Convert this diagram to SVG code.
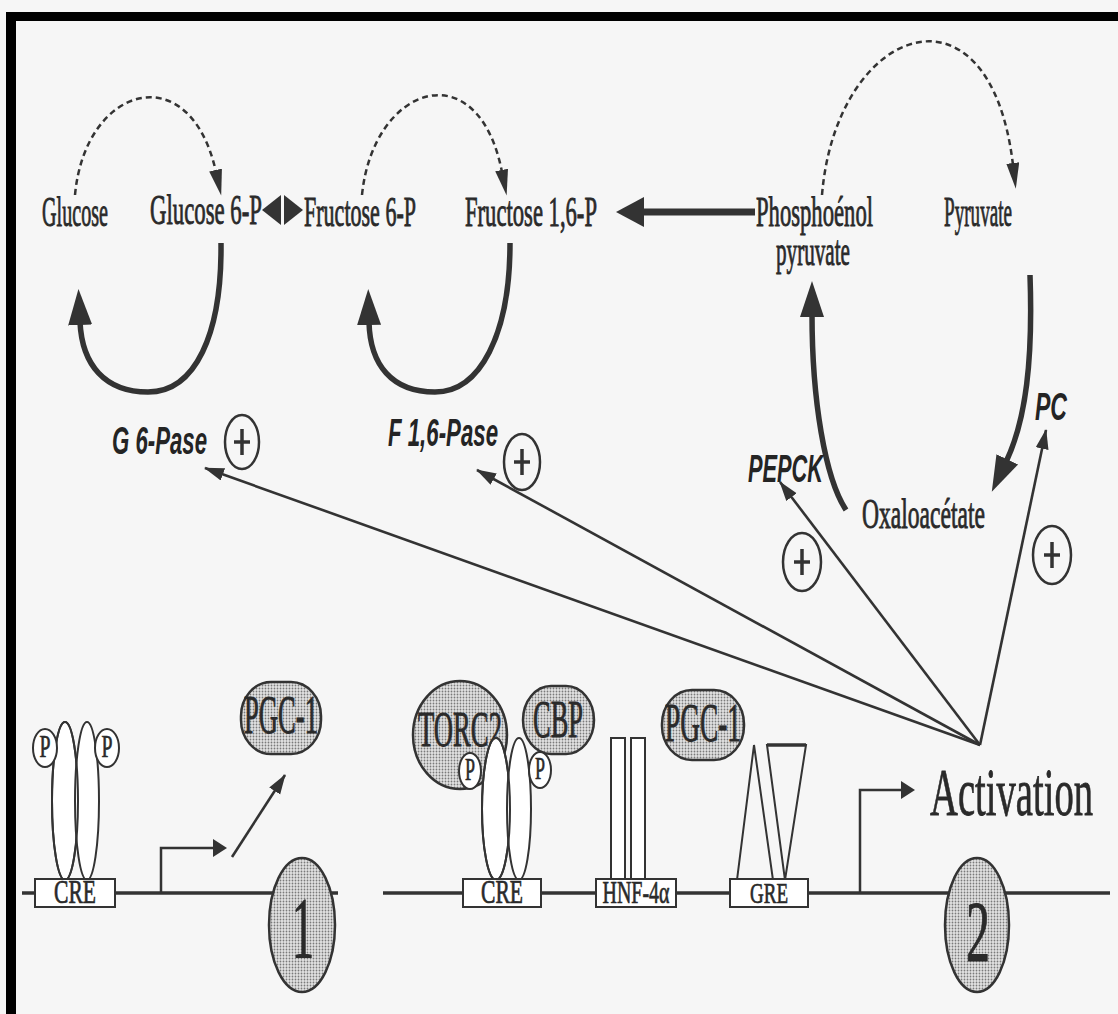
<svg xmlns="http://www.w3.org/2000/svg" width="1118" height="1014" viewBox="0 0 1118 1014">
<defs>
<style>
.bg{fill:#f6f6f6}
.bar{fill:#000}
.t{font-family:"Liberation Serif","Times New Roman",serif;fill:#2a2a2a;stroke:#2a2a2a;stroke-width:0.45}
.row{font-size:21px}
.lab{font-family:"Liberation Sans",Arial,sans-serif;font-weight:bold;font-style:italic;font-size:22px;fill:#242424}
.dash{fill:none;stroke:#333;stroke-width:2.5;stroke-dasharray:6 4;marker-end:url(#ahD)}
.bold{fill:none;stroke:#333;stroke-width:5.5;marker-end:url(#ahB)}
.act{fill:none;stroke:#333;stroke-width:2.6;marker-end:url(#ahT)}
.prom{fill:none;stroke:#333;stroke-width:2.5;marker-end:url(#ahP)}
.plus{fill:none;stroke:#333;stroke-width:2.5}
.pl{stroke:#333;stroke-width:3.5}
.stip{fill:url(#stip);stroke:#333;stroke-width:2.5}
.wht{fill:#fff;stroke:#333;stroke-width:2}
.out{fill:none;stroke:#333;stroke-width:2}
.dna{stroke:#333;stroke-width:3.5}
</style>
<pattern id="stip" width="3" height="3" patternUnits="userSpaceOnUse"><rect width="3" height="3" fill="#e2e2e2"/><circle cx="1.5" cy="1.5" r="0.9" fill="#7a7a7a"/></pattern>
<marker id="ahD" markerUnits="userSpaceOnUse" markerWidth="28" markerHeight="14" refX="2" refY="6.5" orient="auto"><path d="M0,0 L26,6.5 L0,13 z" fill="#333"/></marker>
<marker id="ahB" markerUnits="userSpaceOnUse" markerWidth="40" markerHeight="26" refX="3" refY="12" orient="auto"><path d="M0,0 L36,12 L0,24 z" fill="#333"/></marker>
<marker id="ahT" markerUnits="userSpaceOnUse" markerWidth="22" markerHeight="14" refX="19" refY="6.5" orient="auto"><path d="M0,0 L20,6.5 L0,13 z" fill="#333"/></marker>
<marker id="ahP" markerUnits="userSpaceOnUse" markerWidth="16" markerHeight="20" refX="1" refY="9" orient="auto"><path d="M0,0 L14,9 L0,18 z" fill="#333"/></marker>
<marker id="ahK" markerUnits="userSpaceOnUse" markerWidth="30" markerHeight="32" refX="2" refY="15" orient="auto"><path d="M0,0 L28,15 L0,30 z" fill="#333"/></marker>
</defs>

<rect class="bg" x="0" y="0" width="1118" height="1014"/>
<g id="frame">
<rect class="bar" x="8" y="12" width="1110" height="9"/>
<rect class="bar" x="6" y="12" width="10" height="1002"/>
</g>

<g id="connectors">
<path class="dash" d="M75,195 C85,85 190,55 216,172"/>
<path class="dash" d="M362,195 C373,85 478,50 502,172"/>
<path class="dash" d="M822,195 C836,25 990,-30 1013,165"/>
<line x1="755" y1="212" x2="642" y2="212" stroke="#333" stroke-width="7" marker-end="url(#ahK)"/>
<path class="bold" d="M221,243 C222,335 195,392 148,392 C105,392 82,365 80,322"/>
<path class="bold" d="M510,243 C510,335 480,392 435,392 C392,392 370,365 369,322"/>
<path class="bold" d="M846,510 C825,478 812,400 812,314"/>
<path class="bold" d="M1030,275 C1033,360 1026,420 1006,462"/>
<line class="act" x1="980" y1="745" x2="205" y2="468"/>
<line class="act" x1="980" y1="745" x2="477" y2="470"/>
<line class="act" x1="980" y1="745" x2="780" y2="482"/>
<line class="act" x1="980" y1="745" x2="1046" y2="430"/>
<path class="prom" d="M161,893 V848 H214"/>
<line class="act" x1="232" y1="857" x2="285" y2="775"/>
<path class="prom" d="M860,893 V790 H902"/>
</g>

<g id="metabolites">
<text class="t row" transform="translate(42,226) scale(1,2.05)" textLength="66" lengthAdjust="spacingAndGlyphs">Glucose</text>
<text class="t row" transform="translate(150,224) scale(1,2.05)" textLength="112" lengthAdjust="spacingAndGlyphs">Glucose 6-P</text>
<text class="t row" transform="translate(304,226) scale(1,2.05)" textLength="112" lengthAdjust="spacingAndGlyphs">Fructose 6-P</text>
<text class="t row" transform="translate(465,226) scale(1,2.05)" textLength="132" lengthAdjust="spacingAndGlyphs">Fructose 1,6-P</text>
<text class="t row" transform="translate(756,226) scale(1,2.05)" textLength="117" lengthAdjust="spacingAndGlyphs">Phosphoénol</text>
<text class="t row" transform="translate(776,265) scale(1,2.05)" textLength="74" lengthAdjust="spacingAndGlyphs">pyruvate</text>
<text class="t row" transform="translate(944,226) scale(1,2.05)" textLength="68" lengthAdjust="spacingAndGlyphs">Pyruvate</text>
<text class="t row" transform="translate(862,528) scale(1,2.05)" textLength="123" lengthAdjust="spacingAndGlyphs">Oxaloacétate</text>
</g>

<g id="isomerase">
<polygon points="262,210 281,195 281,225" fill="#333"/>
<polygon points="303,210 284,195 284,225" fill="#333"/>
</g>

<g id="enzymes">
<text class="lab" transform="translate(112,454) scale(1,1.8)" textLength="95" lengthAdjust="spacingAndGlyphs">G 6-Pase</text>
<text class="lab" transform="translate(388,446) scale(1,1.8)" textLength="110" lengthAdjust="spacingAndGlyphs">F 1,6-Pase</text>
<text class="lab" transform="translate(748,482) scale(1,1.8)" textLength="75" lengthAdjust="spacingAndGlyphs">PEPCK</text>
<text class="lab" transform="translate(1035,420) scale(1,1.8)" textLength="32" lengthAdjust="spacingAndGlyphs">PC</text>
</g>

<g id="plus-1"><ellipse class="plus" cx="242" cy="442" rx="17" ry="27"/><line class="pl" x1="242" y1="429" x2="242" y2="455"/><line class="pl" x1="234" y1="442" x2="250" y2="442"/></g>
<g id="plus-2"><ellipse class="plus" cx="522" cy="462" rx="18" ry="28"/><line class="pl" x1="522" y1="449" x2="522" y2="475"/><line class="pl" x1="514" y1="462" x2="530" y2="462"/></g>
<g id="plus-3"><ellipse class="plus" cx="802" cy="562" rx="19" ry="29"/><line class="pl" x1="802" y1="549" x2="802" y2="575"/><line class="pl" x1="794" y1="562" x2="810" y2="562"/></g>
<g id="plus-4"><ellipse class="plus" cx="1052" cy="555" rx="19" ry="29"/><line class="pl" x1="1052" y1="542" x2="1052" y2="568"/><line class="pl" x1="1044" y1="555" x2="1060" y2="555"/></g>

<g id="dna">
<line class="dna" x1="22" y1="893" x2="338" y2="893"/>
<line class="dna" x1="383" y1="893" x2="1110" y2="893"/>
</g>

<g id="creb-1">
<ellipse class="wht" cx="65" cy="801" rx="13" ry="79"/>
<ellipse class="wht" cx="87" cy="801" rx="12" ry="79"/>
<ellipse class="out" cx="65" cy="801" rx="13" ry="79"/>
<ellipse class="wht" cx="45" cy="748" rx="12" ry="19"/>
<text class="t" transform="translate(45,757) scale(1,1.6)" font-size="20" text-anchor="middle" textLength="11" lengthAdjust="spacingAndGlyphs">P</text>
<ellipse class="wht" cx="107" cy="748" rx="12" ry="19"/>
<text class="t" transform="translate(107,757) scale(1,1.6)" font-size="20" text-anchor="middle" textLength="11" lengthAdjust="spacingAndGlyphs">P</text>
</g>
<g id="cre-1">
<rect class="wht" x="35" y="879" width="80" height="28"/>
<text class="t" transform="translate(75,903) scale(1,1.6)" font-size="21" text-anchor="middle" textLength="42" lengthAdjust="spacingAndGlyphs">CRE</text>
</g>
<g id="pgc1-a">
<rect class="stip" x="241" y="682" width="80" height="72" rx="30" ry="34"/>
<text class="t" transform="translate(281,733) scale(1,2)" font-size="27" text-anchor="middle" textLength="74" lengthAdjust="spacingAndGlyphs">PGC-1</text>
</g>
<g id="gene-1">
<ellipse class="stip" cx="302" cy="925" rx="33" ry="67"/>
<text class="t" transform="translate(303,957) scale(1,1.95)" font-size="44" text-anchor="middle" textLength="22" lengthAdjust="spacingAndGlyphs">1</text>
</g>

<g id="torc2">
<ellipse class="stip" cx="460" cy="735" rx="47" ry="54"/>
<text class="t" transform="translate(460,746) scale(1,1.95)" font-size="26" text-anchor="middle" textLength="84" lengthAdjust="spacingAndGlyphs">TORC2</text>
</g>
<g id="cbp">
<rect class="stip" x="523" y="686" width="71" height="68" rx="28" ry="34"/>
<text class="t" transform="translate(558,737) scale(1,2)" font-size="26" text-anchor="middle" textLength="50" lengthAdjust="spacingAndGlyphs">CBP</text>
</g>
<g id="creb-2">
<ellipse class="wht" cx="496" cy="809" rx="14" ry="71"/>
<ellipse class="wht" cx="519" cy="809" rx="12" ry="71"/>
<ellipse class="out" cx="496" cy="809" rx="14" ry="71"/>
<ellipse class="wht" cx="470" cy="771" rx="11" ry="18"/>
<text class="t" transform="translate(470,780) scale(1,1.6)" font-size="20" text-anchor="middle" textLength="10" lengthAdjust="spacingAndGlyphs">P</text>
<ellipse class="wht" cx="540" cy="770" rx="11" ry="18"/>
<text class="t" transform="translate(540,779) scale(1,1.6)" font-size="20" text-anchor="middle" textLength="10" lengthAdjust="spacingAndGlyphs">P</text>
</g>
<g id="cre-2">
<rect class="wht" x="463" y="879" width="78" height="28"/>
<text class="t" transform="translate(502,903) scale(1,1.6)" font-size="21" text-anchor="middle" textLength="42" lengthAdjust="spacingAndGlyphs">CRE</text>
</g>
<g id="hnf4">
<rect class="wht" x="611" y="738" width="14" height="141"/>
<rect class="wht" x="631" y="738" width="14" height="141"/>
<rect class="wht" x="596" y="879" width="80" height="28"/>
<text class="t" transform="translate(636,903) scale(1,1.6)" font-size="20" text-anchor="middle" textLength="67" lengthAdjust="spacingAndGlyphs">HNF-4α</text>
</g>
<g id="pgc1-b">
<rect class="stip" x="662" y="690" width="82" height="70" rx="30" ry="34"/>
<text class="t" transform="translate(703,741) scale(1,2)" font-size="27" text-anchor="middle" textLength="76" lengthAdjust="spacingAndGlyphs">PGC-1</text>
</g>
<g id="gr">
<polygon class="out" points="754,745 737,880 773,880"/>
<polygon class="out" points="767,745 806,745 785,880"/>
<line x1="767" y1="745" x2="806" y2="745" stroke="#333" stroke-width="3.5"/>
</g>
<g id="gre">
<rect class="wht" x="730" y="879" width="78" height="28"/>
<text class="t" transform="translate(769,903) scale(1,1.6)" font-size="19" text-anchor="middle" textLength="38" lengthAdjust="spacingAndGlyphs">GRE</text>
</g>
<g id="activation">
<text class="t" transform="translate(930,815) scale(1,1.75)" font-size="39" textLength="163" lengthAdjust="spacingAndGlyphs">Activation</text>
</g>
<g id="gene-2">
<ellipse class="stip" cx="977" cy="925" rx="32" ry="67"/>
<text class="t" transform="translate(978,961) scale(1,1.95)" font-size="44" text-anchor="middle" textLength="24" lengthAdjust="spacingAndGlyphs">2</text>
</g>
</svg>
